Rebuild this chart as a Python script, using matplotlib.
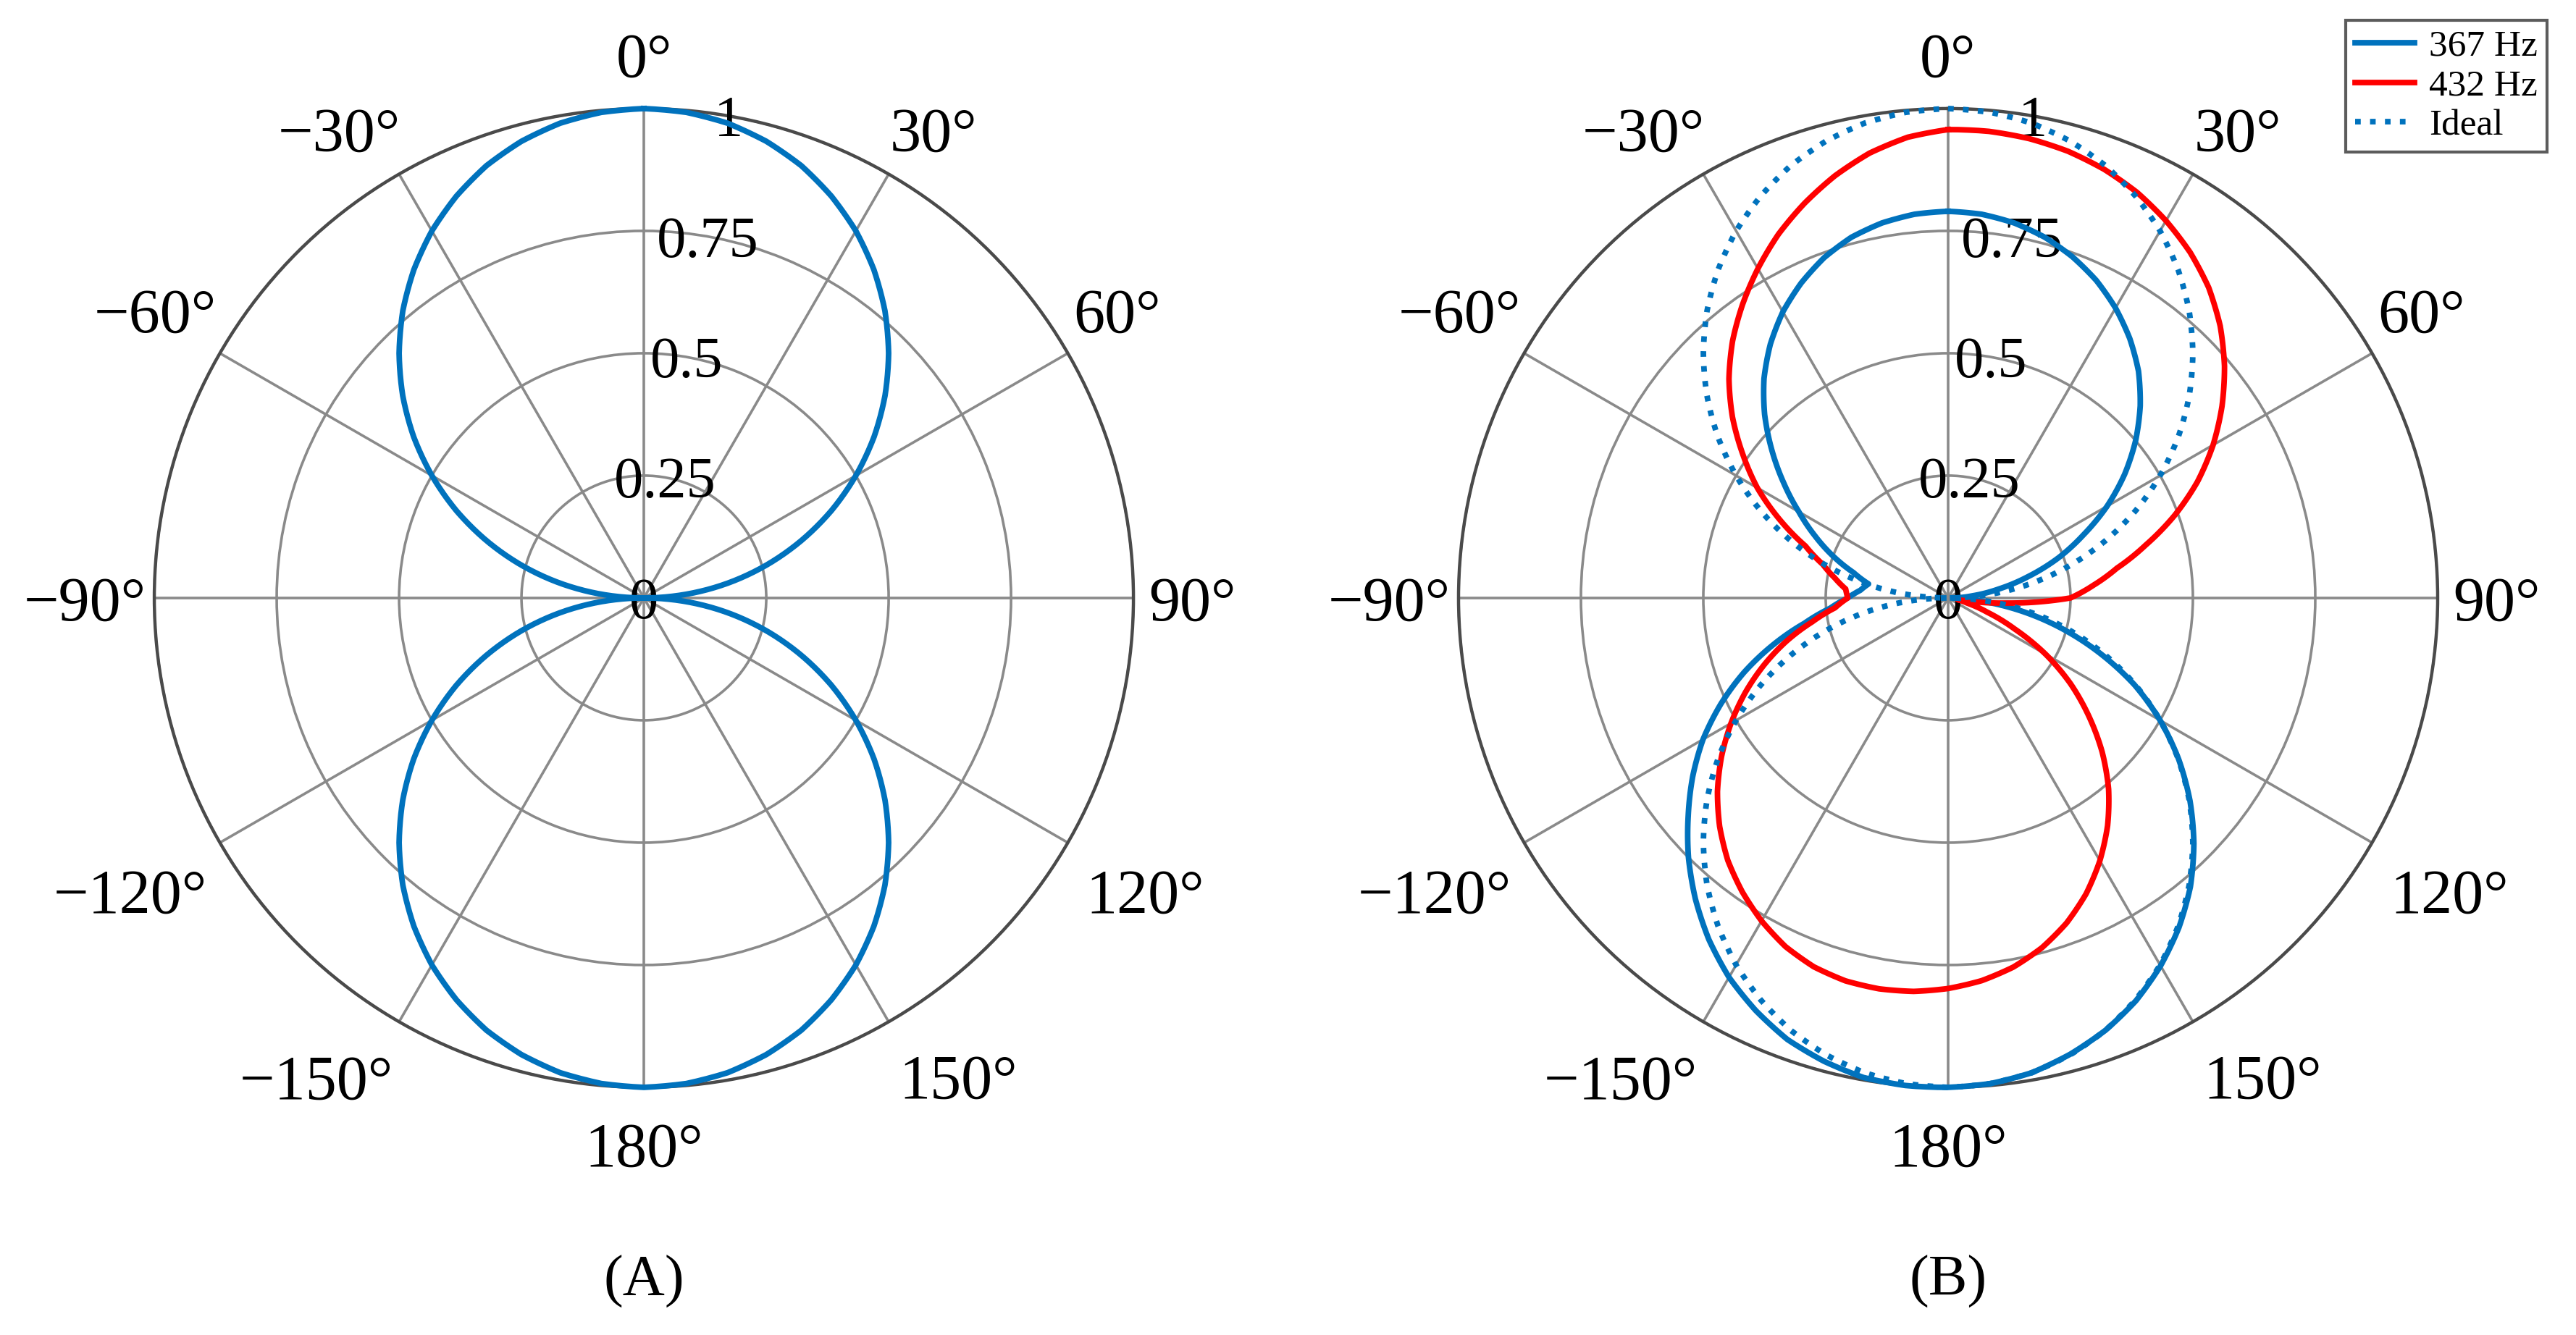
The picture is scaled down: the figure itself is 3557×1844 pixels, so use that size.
import matplotlib.pyplot as plt
import numpy as np

plt.rcParams['font.family'] = ['Liberation Serif', 'DejaVu Serif']

# angle in degrees, clockwise from the top of the plot (5 deg steps, 0..360)
theta_deg = np.arange(0, 365, 5)

# (A) dipole pattern, also drawn as "Ideal" in (B)
ideal = [1.000, 0.996, 0.985, 0.966, 0.940, 0.906, 0.866, 0.819, 0.766, 0.707,
         0.643, 0.574, 0.500, 0.423, 0.342, 0.259, 0.174, 0.087, 0.000,
         0.087, 0.174, 0.259, 0.342, 0.423, 0.500, 0.574, 0.643, 0.707,
         0.766, 0.819, 0.866, 0.906, 0.940, 0.966, 0.985, 0.996, 1.000,
         0.996, 0.985, 0.966, 0.940, 0.906, 0.866, 0.819, 0.766, 0.707,
         0.643, 0.574, 0.500, 0.423, 0.342, 0.259, 0.174, 0.087, 0.000,
         0.087, 0.174, 0.259, 0.342, 0.423, 0.500, 0.574, 0.643, 0.707,
         0.766, 0.819, 0.866, 0.906, 0.940, 0.966, 0.985, 0.996, 1.000]

# (B) measured patterns
r_367 = [0.790, 0.787, 0.778, 0.763, 0.742, 0.716, 0.684, 0.647, 0.605, 0.555,
         0.500, 0.440, 0.375, 0.305, 0.240, 0.170, 0.105, 0.050, 0.010,
         0.060, 0.150, 0.240, 0.330, 0.420, 0.500, 0.575, 0.645, 0.710,
         0.770, 0.822, 0.868, 0.908, 0.940, 0.965, 0.985, 0.996, 1.000,
         1.000, 0.995, 0.980, 0.960, 0.930, 0.895, 0.852, 0.803, 0.750,
         0.693, 0.637, 0.578, 0.512, 0.443, 0.370, 0.298, 0.242, 0.205,
         0.180, 0.165, 0.200, 0.250, 0.300, 0.352, 0.410, 0.470, 0.530,
         0.585, 0.633, 0.675, 0.710, 0.740, 0.763, 0.778, 0.787, 0.790]
r_432 = [0.957, 0.957, 0.953, 0.945, 0.932, 0.914, 0.890, 0.862, 0.828, 0.786,
         0.737, 0.683, 0.625, 0.562, 0.492, 0.418, 0.350, 0.298, 0.250,
         0.120, 0.020, 0.040, 0.085, 0.150, 0.230, 0.305, 0.375, 0.445,
         0.510, 0.568, 0.620, 0.667, 0.707, 0.740, 0.766, 0.785, 0.798,
         0.807, 0.811, 0.810, 0.802, 0.786, 0.762, 0.733, 0.700, 0.660,
         0.615, 0.565, 0.512, 0.457, 0.400, 0.342, 0.282, 0.232, 0.205,
         0.210, 0.235, 0.265, 0.310, 0.380, 0.450, 0.512, 0.575, 0.633,
         0.685, 0.732, 0.777, 0.820, 0.858, 0.893, 0.923, 0.945, 0.957]

series_labels = ['367 Hz', '432 Hz', 'Ideal']
grid_angles = np.arange(0, 360, 30)
angle_labels = ['0°', '30°', '60°', '90°', '120°', '150°', '180°',
                '\u2212150°', '\u2212120°', '\u221290°', '\u221260°', '\u221230°']
# where each angle label sits (direction in deg, distance with outer circle = 1)
angle_label_dir = [0, 31.7, 58.7, 90, 120.3, 146.7, 180,
                   214.4, 240.3, 270, 300.5, 327]
angle_label_r = [1.11, 1.125, 1.132, 1.12, 1.186, 1.169, 1.116,
                 1.185, 1.207, 1.142, 1.159, 1.142]
r_ticks = [0, 0.25, 0.5, 0.75, 1]
r_labels = ['0', '0.25', '0.5', '0.75', '1']

BLUE = '#0072BD'
RED = '#FF0000'
GRID = '#8a8a8a'


def setup_polar(ax):
    ax.set_theta_zero_location('N')
    ax.set_theta_direction(-1)
    ax.set_ylim(0, 1)
    ax.set_thetagrids(grid_angles, [''] * len(grid_angles))
    ax.set_rgrids([0.25, 0.5, 0.75, 1.0], labels=[''] * 4)
    ax.grid(True, color=GRID, linewidth=1.3)
    ax.spines['polar'].set_color('#4a4a4a')
    ax.spines['polar'].set_linewidth(1.6)
    for a, lab, rr in zip(angle_label_dir, angle_labels, angle_label_r):
        ax.text(np.deg2rad(a), rr, lab, ha='center', va='center_baseline',
                fontsize=31, clip_on=False)
    # radial labels sit along the 10 deg direction
    for r, lab in zip(r_ticks, r_labels):
        ax.text(np.deg2rad(10) if r > 0 else 0, r, lab, ha='center',
                va='center_baseline', fontsize=29, zorder=3)


def polar_line(ax, r, **kw):
    line, = ax.plot(np.deg2rad(theta_deg), r, clip_on=False, zorder=4, **kw)
    # let the polar transform draw each segment as a curve, not a chord
    line.get_path()._interpolation_steps = 12
    return line


fig = plt.figure(figsize=(17.785, 9.22), dpi=200)
ax_a = fig.add_axes([0.0599, 0.1855, 0.3801, 0.7332], projection='polar')
ax_b = fig.add_axes([0.5662, 0.1855, 0.3801, 0.7332], projection='polar')

setup_polar(ax_a)
polar_line(ax_a, ideal, color=BLUE, linewidth=2.8)

setup_polar(ax_b)
h1 = polar_line(ax_b, r_367, color=BLUE, linewidth=2.8)
h2 = polar_line(ax_b, r_432, color=RED, linewidth=2.8)
h3 = polar_line(ax_b, ideal, color=BLUE, linewidth=2.8, linestyle=':')

leg = fig.legend([h1, h2, h3], series_labels, loc='upper right',
                 bbox_to_anchor=(0.9888, 0.9848), fontsize=18.5, frameon=True,
                 fancybox=False, handlelength=1.6, handletextpad=0.4,
                 labelspacing=0.15, borderpad=0.25, borderaxespad=0)
leg.get_frame().set_edgecolor('#333333')
leg.get_frame().set_linewidth(1.5)

fig.text(0.25, 0.040, '(A)', ha='center', va='center', fontsize=29)
fig.text(0.7563, 0.040, '(B)', ha='center', va='center', fontsize=29)

fig.savefig('out.png', dpi=200, facecolor='white')
